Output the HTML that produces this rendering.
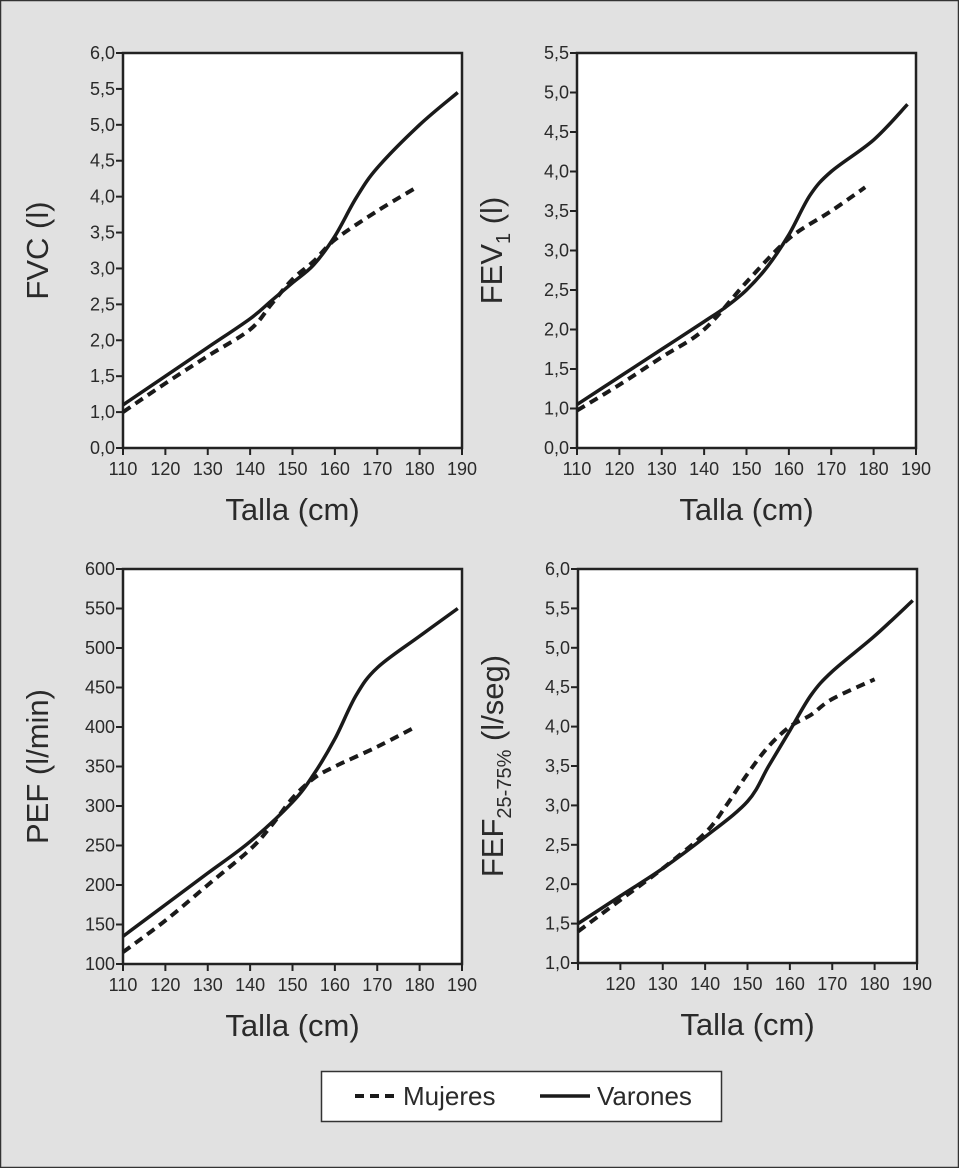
<!DOCTYPE html>
<html><head><meta charset="utf-8"><style>
html,body{margin:0;padding:0;background:#e1e1e1}
svg{display:block}
text{font-family:"Liberation Sans",sans-serif;fill:#2a2a2a}
</style></head><body>
<svg id="c" width="959" height="1168">
<rect x="0.5" y="0.5" width="958" height="1167" fill="#e1e1e1" stroke="#333" stroke-width="1.5"/>
</svg>
<script>
const xTicks = [110,120,130,140,150,160,170,180,190];
const fvcTicks = [0,1,1.5,2,2.5,3,3.5,4,4.5,5,5.5,6];
const fevTicks = [0,1,1.5,2,2.5,3,3.5,4,4.5,5,5.5];
const pefTicks = [100,150,200,250,300,350,400,450,500,550,600];
const fefTicks = [1,1.5,2,2.5,3,3.5,4,4.5,5,5.5,6];

const fvcX_v = [110,120,130,140,145,150,155,160,165,170,180,189];
const fvcY_v = [1.1,1.5,1.9,2.3,2.55,2.8,3.05,3.45,3.98,4.4,5.0,5.45];
const fvcX_m = [110,120,130,140,145,150,155,160,170,179];
const fvcY_m = [1.0,1.4,1.78,2.15,2.5,2.85,3.1,3.4,3.8,4.12];

const fevX_v = [110,120,130,140,145,150,155,160,165,170,180,188];
const fevY_v = [1.05,1.4,1.75,2.1,2.28,2.5,2.8,3.2,3.7,4.0,4.4,4.85];
const fevX_m = [110,120,130,140,150,160,170,178];
const fevY_m = [0.95,1.3,1.65,2.0,2.6,3.15,3.5,3.8];

const pefX_v = [110,120,130,140,150,155,160,165,170,180,189];
const pefY_v = [135,175,215,255,305,340,385,440,475,515,550];
const pefX_m = [110,120,130,140,145,150,155,160,170,179];
const pefY_m = [115,155,200,245,275,310,335,350,375,400];

const fefX_v = [110,120,130,140,150,155,160,165,170,180,189];
const fefY_v = [1.5,1.85,2.2,2.6,3.05,3.5,3.95,4.4,4.7,5.15,5.6];
const fefX_m = [110,120,130,140,145,150,155,160,165,170,180];
const fefY_m = [1.4,1.8,2.2,2.65,3.0,3.4,3.75,4.0,4.15,4.35,4.6];

const NS='http://www.w3.org/2000/svg';
const svg=document.getElementById('c');
function mk(tag,attrs,parent){const e=document.createElementNS(NS,tag);for(const k in attrs)e.setAttribute(k,attrs[k]);(parent||svg).appendChild(e);return e;}

function panel(o){
  const g=mk('g',{});
  
  
  const {L,R,T,B,ticks}=o;
  const n=ticks.length-1;
  const xs=v=>L+(v-110)/80*(R-L);
  const idx=v=>{for(let i=0;i<n;i++){if(v<=ticks[i+1]||i==n-1){return i+(v-ticks[i])/(ticks[i+1]-ticks[i]);}}};
  const ys=v=>B-idx(v)/n*(B-T);
  const bg=mk('rect',{x:L,y:T,width:R-L,height:B-T,fill:'#fff',stroke:'#222','stroke-width':2.5},g);
  
  
  ticks.forEach((t,i)=>{
    const y=B-i/n*(B-T);
    mk('line',{x1:L-7,x2:L,y1:y,y2:y,stroke:'#222','stroke-width':2},g);
    const tx=mk('text',{x:L-8,y:y+6,'text-anchor':'end','font-size':18},g);
    tx.textContent=o.fmt(t);
    
    
  });
  xTicks.forEach(t=>{
    const x=xs(t);
    mk('line',{x1:x,x2:x,y1:B,y2:B+7,stroke:'#222','stroke-width':2},g);
    if(o.skip110&&t==110)return;
    const tx=mk('text',{x:x,y:B+27,'text-anchor':'middle','font-size':18},g);
    tx.textContent=t;
    
    
  });
  const xt=mk('text',{x:(L+R)/2,y:B+72,'text-anchor':'middle','font-size':31},g);
  xt.textContent='Talla (cm)';
  
  
  const yt=mk('text',{transform:`translate(${L-75},${(T+B)/2}) rotate(-90)`,'text-anchor':'middle','font-size':31},g);
  yt.innerHTML=o.ytitle;
  
  
  function path(X,Y){
    const p=X.map((x,i)=>[xs(x),ys(Y[i])]);
    let d=`M${p[0][0]},${p[0][1]}`;
    for(let i=0;i<p.length-1;i++){
      const p0=p[Math.max(0,i-1)],p1=p[i],p2=p[i+1],p3=p[Math.min(p.length-1,i+2)];
      const c1=[p1[0]+(p2[0]-p0[0])/6,p1[1]+(p2[1]-p0[1])/6];
      const c2=[p2[0]-(p3[0]-p1[0])/6,p2[1]-(p3[1]-p1[1])/6];
      d+=` C${c1[0]},${c1[1]} ${c2[0]},${c2[1]} ${p2[0]},${p2[1]}`;
    }
    return d;
  }
  const m=mk('path',{d:path(o.xm,o.ym),fill:'none',stroke:'#1a1a1a','stroke-width':4,'stroke-dasharray':'9,6'},g);
  
  
  const v=mk('path',{d:path(o.xv,o.yv),fill:'none',stroke:'#1a1a1a','stroke-width':3.5},g);
  
  
}
const f1=t=>t.toFixed(1).replace('.',',');
const f0=t=>String(t);
panel({name:'fvc-panel',L:123,R:462,T:53,B:448,ticks:fvcTicks,fmt:f1,ytitle:'FVC (l)',xv:fvcX_v,yv:fvcY_v,xm:fvcX_m,ym:fvcY_m});
panel({name:'fev1-panel',L:577,R:916,T:53,B:448,ticks:fevTicks,fmt:f1,ytitle:'FEV<tspan font-size="20" dy="8">1</tspan><tspan dy="-8"> (l)</tspan>',xv:fevX_v,yv:fevY_v,xm:fevX_m,ym:fevY_m});
panel({name:'pef-panel',L:123,R:462,T:569,B:964,ticks:pefTicks,fmt:f0,ytitle:'PEF (l/min)',xv:pefX_v,yv:pefY_v,xm:pefX_m,ym:pefY_m});
panel({name:'fef-panel',L:578,R:917,T:569,B:963,ticks:fefTicks,fmt:f1,skip110:true,ytitle:'FEF<tspan font-size="20" dy="8">25-75%</tspan><tspan dy="-8"> (l/seg)</tspan>',xv:fefX_v,yv:fefY_v,xm:fefX_m,ym:fefY_m});

const lg=mk('g',{});


mk('rect',{x:321.5,y:1071.5,width:400,height:50,fill:'#fff',stroke:'#333','stroke-width':1.5},lg);
mk('line',{x1:355,x2:398,y1:1096,y2:1096,stroke:'#1a1a1a','stroke-width':4,'stroke-dasharray':'9,6'},lg);
const t1=mk('text',{x:403,y:1105,'font-size':26},lg);t1.textContent='Mujeres';


mk('line',{x1:540,x2:590,y1:1096,y2:1096,stroke:'#1a1a1a','stroke-width':3.5},lg);
const t2=mk('text',{x:597,y:1105,'font-size':26},lg);t2.textContent='Varones';


</script>
</body></html>
